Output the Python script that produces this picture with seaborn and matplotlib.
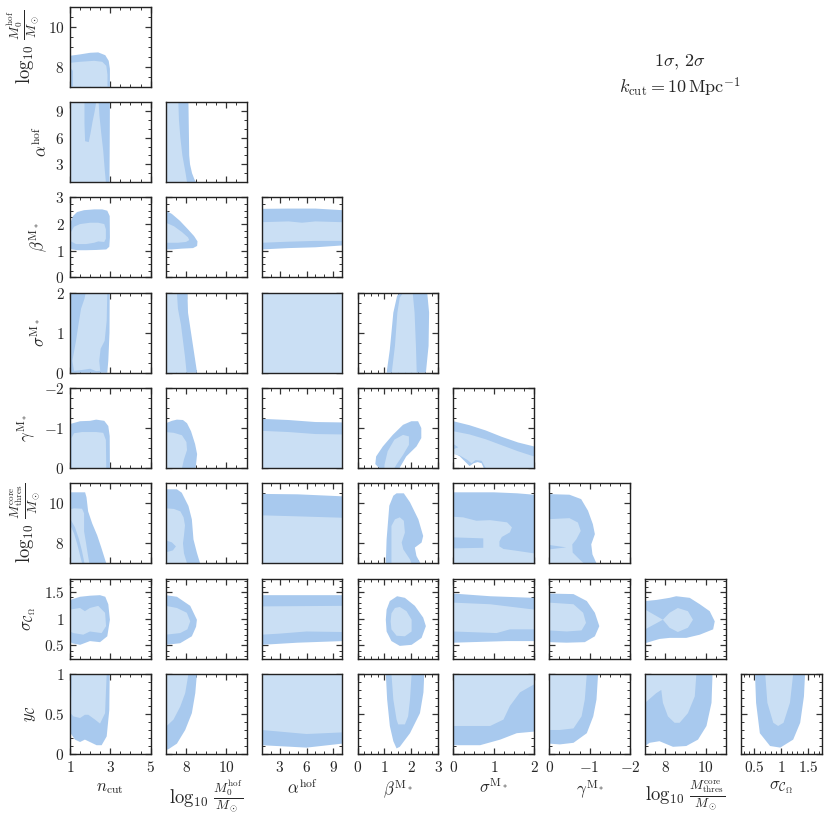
import matplotlib
matplotlib.use('Agg')
import matplotlib.pyplot as plt
import seaborn as sns
from matplotlib.ticker import FixedLocator, MultipleLocator, FixedFormatter, NullFormatter

sns.set_style('ticks')
plt.rcParams['font.family'] = ['DejaVu Serif']
plt.rcParams['mathtext.fontset'] = 'cm'

# parameters (order of the corner plot)
params = ['ncut', 'm0', 'alpha', 'beta', 'sig', 'gam', 'mth', 'sigc', 'yc']
labels = [r'$n_{\rm cut}$',
          r'$\log_{10}\,\frac{M_0^{\rm hof}}{M_\odot}$',
          r'$\alpha^{\rm hof}$',
          r'$\beta^{{\rm M}_*}$',
          r'$\sigma^{{\rm M}_*}$',
          r'$\gamma^{{\rm M}_*}$',
          r'$\log_{10}\,\frac{M_{\rm thres}^{\rm core}}{M_\odot}$',
          r'$\sigma_{\mathcal{C}_\Omega}$',
          r'$y_{\mathcal{C}}$']
label_size = [12, 13.5, 12, 12, 12, 12, 13.5, 12, 12]
limits = [(1, 5), (7, 11), (1, 10), (0, 3), (0, 2), (0, -2), (7, 11), (0.25, 1.75), (0, 1)]
major_ticks = [[1, 3, 5], [8, 10], [3, 6, 9], [0, 1, 2, 3], [0, 1, 2], [0, -1, -2],
               [8, 10], [0.5, 1, 1.5], [0, 0.5, 1]]
minor_step = [0.5, 0.5, 1, 0.25, 0.25, 0.25, 0.5, 0.1, 0.1]

# 2 sigma (outer) and 1 sigma (inner) regions
m0_ncut_2s = [(1.0, 8.55), (1.5, 8.62), (2.0, 8.7), (2.4, 8.72), (2.75, 8.58), (2.92, 8.3),
              (2.98, 7.9), (2.98, 7.0), (1.0, 7.0)]
m0_ncut_1s = [(1.0, 8.2), (1.5, 8.25), (2.2, 8.3), (2.6, 8.25), (2.8, 8.05), (2.86, 7.6),
              (2.86, 7.0), (1.15, 7.0), (1.15, 7.8), (1.0, 7.95)]

alpha_ncut_2s = [(1, 1), (1, 10), (2.98, 10), (2.97, 5), (2.96, 1)]
alpha_ncut_1s = [(1.0, 10), (1.72, 10), (1.72, 7.5), (1.75, 5.6), (1.93, 5.5), (2.02, 6.5),
                 (2.12, 7.8), (2.22, 8.9), (2.3, 10), (2.42, 10), (2.46, 8.5), (2.55, 6.5),
                 (2.65, 4.5), (2.72, 2.5), (2.78, 1.0), (1.0, 1.0)]
alpha_m0_2s = [(7, 10), (8.12, 10), (8.14, 7), (8.16, 4), (8.2, 3), (8.3, 2), (8.42, 1.3),
               (8.5, 1), (7, 1)]
alpha_m0_1s = [(7, 10), (7.62, 10), (7.65, 8), (7.72, 6), (7.82, 4), (7.9, 3), (7.98, 2),
               (8.05, 1), (7, 1)]

beta_ncut_2s = [(1.0, 2.0), (1.15, 2.3), (1.35, 2.45), (1.7, 2.52), (2.2, 2.55), (2.6, 2.55),
                (2.85, 2.5), (2.97, 2.3), (2.98, 1.5), (2.95, 1.15), (2.8, 1.05), (2.3, 1.03),
                (1.8, 1.02), (1.4, 1.02), (1.1, 1.05), (1.0, 1.1)]
beta_ncut_1s = [(1.0, 1.55), (1.05, 1.7), (1.2, 1.9), (1.5, 2.0), (2.0, 2.05), (2.4, 2.05),
                (2.7, 2.0), (2.78, 1.8), (2.78, 1.45), (2.7, 1.33), (2.4, 1.35), (2.2, 1.3),
                (1.8, 1.25), (1.3, 1.25), (1.05, 1.35)]
beta_m0_2s = [(7, 2.5), (7.3, 2.38), (7.7, 2.12), (8.1, 1.8), (8.4, 1.55), (8.57, 1.35),
              (8.55, 1.18), (8.35, 1.1), (7.8, 1.08), (7.3, 1.05), (7, 1.05)]
beta_m0_1s = [(7, 2.05), (7.4, 1.92), (7.8, 1.7), (8.1, 1.5), (8.16, 1.4), (8.0, 1.33),
              (7.6, 1.3), (7, 1.3)]
beta_alpha_2s = [(1, 2.57), (4, 2.58), (7, 2.58), (10, 2.52), (10, 1.2), (7, 1.13), (4, 1.1),
                 (1, 1.05)]
beta_alpha_1s = [(1, 2.07), (4, 2.1), (5.5, 2.05), (7, 2.1), (10, 2.07), (10, 1.37), (7, 1.37),
                 (4, 1.34), (1, 1.3)]

sig_ncut_2s = [(1, 0), (1, 2), (2.97, 2), (2.96, 1), (2.9, 0.3), (2.85, 0)]
sig_ncut_1s = [(1.78, 2.0), (2.85, 2.0), (2.82, 1.3), (2.72, 0.8), (2.52, 0.6), (2.45, 0.3),
               (2.5, 0.05), (2.3, 0.04), (2.0, 0.1), (1.6, 0.07), (1.2, 0.05), (1.12, 0.3),
               (1.3, 0.8), (1.42, 1.2), (1.55, 1.6), (1.72, 1.85)]
sig_m0_2s = [(7, 2), (8.07, 2), (8.1, 1.5), (8.25, 1.0), (8.4, 0.5), (8.55, 0), (7, 0)]
sig_m0_1s = [(7, 2), (7.55, 2), (7.6, 1.6), (7.75, 1.2), (7.85, 0.8), (7.95, 0.4), (8.03, 0),
             (7, 0)]
sig_alpha_2s = [(1, 0), (10, 0), (10, 2), (1, 2)]
sig_alpha_1s = [(1, 0), (10, 0), (10, 2), (1, 2)]
sig_beta_2s = [(1.08, 0), (1.2, 0.58), (1.33, 1.5), (1.47, 1.92), (1.57, 2.0), (2.59, 2.0),
               (2.66, 1.5), (2.64, 0.67), (2.54, 0)]
sig_beta_1s = [(1.27, 0), (1.39, 0.67), (1.48, 1.5), (1.57, 1.88), (1.7, 2.0), (2.05, 2.0),
               (2.12, 1.5), (2.17, 0.67), (2.2, 0)]

gam_ncut_2s = [(1, -1.1), (1.5, -1.17), (2.0, -1.18), (2.3, -1.21), (2.7, -1.18), (2.9, -1.05),
               (2.97, -0.8), (2.98, 0), (1, 0)]
gam_ncut_1s = [(1.08, 0), (1.08, -0.75), (1.2, -0.87), (1.6, -0.9), (2.3, -0.9), (2.65, -0.88),
               (2.78, -0.7), (2.8, 0)]
gam_m0_2s = [(7, -1.12), (7.3, -1.18), (7.55, -1.21), (7.85, -1.2), (8.05, -1.12),
             (8.25, -0.92), (8.45, -0.6), (8.55, -0.35), (8.48, 0), (7, 0)]
gam_m0_1s = [(7, -0.9), (7.4, -0.88), (7.8, -0.82), (8.02, -0.65), (8.05, -0.45), (7.9, -0.22),
             (7.8, 0), (7, 0)]
gam_alpha_2s = [(1, -1.23), (4, -1.2), (7, -1.15), (10, -1.14), (10, 0), (1, 0)]
gam_alpha_1s = [(1, -0.93), (4, -0.9), (7, -0.85), (10, -0.84), (10, 0), (1, 0)]
gam_beta_2s = [(0.66, -0.1), (0.69, -0.29), (0.94, -0.54), (1.31, -0.83), (1.69, -1.08),
               (2.0, -1.17), (2.25, -1.17), (2.37, -1.0), (2.37, -0.75), (2.19, -0.54),
               (1.81, -0.29), (1.56, 0), (0.8, 0)]
gam_beta_1s = [(1.0, -0.08), (1.12, -0.42), (1.37, -0.71), (1.69, -0.83), (1.91, -0.79),
               (1.91, -0.58), (1.69, -0.33), (1.44, -0.08), (1.37, 0), (1.0, 0)]
gam_sig_2s = [(0, -1.17), (0.4, -1.07), (0.8, -0.94), (1.2, -0.78), (1.6, -0.64), (2.0, -0.54),
              (2.0, 0), (0.75, 0), (0.7, -0.12), (0.6, -0.15), (0.5, -0.12), (0.4, -0.05),
              (0.3, -0.15), (0.15, -0.3), (0, -0.37)]
gam_sig_1s = [(0, -0.92), (0.4, -0.84), (0.8, -0.72), (1.2, -0.57), (1.6, -0.42), (2.0, -0.29),
              (2.0, 0), (0.8, 0), (0.7, -0.18), (0.55, -0.2), (0.45, -0.12), (0.35, -0.2),
              (0.15, -0.32), (0, -0.35), (0, -0.47), (0.12, -0.52), (0, -0.6)]

mth_ncut_2s = [(1, 10.55), (1.75, 10.55), (1.82, 10.3), (1.9, 9.6), (2.1, 9.0), (2.35, 8.4),
               (2.55, 7.8), (2.8, 7.0), (1, 7.0)]
mth_ncut_1s = [(1.0, 9.7), (1.2, 9.75), (1.6, 9.73), (1.7, 9.5), (1.7, 8.6), (1.8, 8.0),
               (1.86, 7.6), (1.96, 7.0), (1.72, 7.0), (1.6, 7.6), (1.45, 8.2), (1.25, 8.8),
               (1.0, 9.25)]
mth_ncut_1s_b = [(1.0, 8.95), (1.2, 8.5), (1.35, 8.0), (1.5, 7.4), (1.6, 7.0), (1.0, 7.0)]
mth_m0_2s = [(7, 10.7), (7.55, 10.7), (7.79, 10.53), (8.12, 9.87), (8.29, 9.2), (8.37, 8.2),
             (8.54, 7.53), (8.7, 7.0), (7, 7)]
mth_m0_1s = [(7, 9.75), (7.4, 9.72), (7.72, 9.6), (7.88, 9.3), (7.95, 8.9), (7.9, 8.4),
             (7.85, 8.0), (7.9, 7.5), (8.05, 7.0), (7, 7.0), (7, 7.55), (7.35, 7.65),
             (7.5, 7.85), (7.3, 8.05), (7, 8.15)]
mth_alpha_2s = [(1, 10.47), (5, 10.45), (10, 10.35), (10, 7), (1, 7)]
mth_alpha_1s = [(1, 9.4), (5, 9.35), (10, 9.28), (10, 7), (1, 7)]
mth_beta_2s = [(1.05, 7), (1.08, 8.2), (1.18, 9.88), (1.33, 10.38), (1.45, 10.5), (1.72, 10.5),
               (1.95, 10.05), (2.26, 9.2), (2.44, 8.37), (2.38, 8.04), (2.13, 7.79),
               (2.19, 7.37), (2.34, 7)]
mth_beta_1s = [(1.26, 7), (1.26, 8.2), (1.26, 8.87), (1.39, 9.2), (1.57, 9.3), (1.72, 9.13),
               (1.76, 8.54), (1.64, 8.04), (1.7, 7.7), (1.95, 7.2), (2.0, 7)]
mth_sig_2s = [(0, 10.55), (1.0, 10.55), (1.58, 10.5), (2.0, 10.43), (2, 7), (0, 7)]
mth_sig_1s = [(0, 9.33), (0.24, 9.3), (0.57, 9.13), (0.91, 9.16), (1.33, 9.05), (1.45, 8.8),
              (1.4, 8.55), (1.2, 8.32), (1.14, 8.1), (1.14, 7.85), (1.24, 7.72), (1.6, 7.62),
              (2.0, 7.5), (2.0, 7.0), (0, 7.0), (0, 7.75), (0.74, 7.78), (0.74, 8.25),
              (0, 8.3)]
mth_gam_2s = [(0, 10.46), (-0.5, 10.43), (-0.79, 10.21), (-0.96, 9.63), (-1.08, 8.96),
              (-1.13, 8.46), (-1.04, 7.95), (-1.07, 7.45), (-1.17, 7), (0, 7)]
mth_gam_1s = [(0, 9.21), (-0.5, 9.26), (-0.71, 9.04), (-0.78, 8.62), (-0.67, 8.2),
              (-0.57, 7.95), (-0.58, 7.54), (-0.79, 7.12), (-0.86, 7), (0, 7), (0, 7.7),
              (-0.42, 7.8), (0, 7.92)]

sigc_ncut_2s = [(1, 1.31), (1.08, 1.36), (1.5, 1.41), (2.0, 1.43), (2.49, 1.44), (2.75, 1.41),
                (2.9, 1.27), (2.98, 0.98), (2.85, 0.67), (2.49, 0.56), (1.99, 0.58),
                (1.5, 0.51), (1.08, 0.54), (1.0, 0.61)]
sigc_ncut_1s = [(1.0, 1.17), (1.5, 1.2), (1.74, 1.14), (1.99, 1.2), (2.4, 1.24), (2.74, 1.11),
                (2.79, 0.86), (2.57, 0.73), (1.99, 0.76), (1.66, 0.7), (1.17, 0.73),
                (1.0, 0.76)]
sigc_m0_2s = [(7, 1.44), (7.55, 1.41), (8.21, 1.24), (8.54, 0.98), (8.5, 0.85), (8.29, 0.67),
              (7.71, 0.54), (7, 0.51)]
sigc_m0_1s = [(7, 1.24), (7.55, 1.2), (8.04, 1.11), (8.21, 0.95), (8.07, 0.8), (7.71, 0.73),
              (7, 0.7)]
sigc_alpha_2s = [(1, 1.44), (10, 1.44), (10, 0.58), (5, 0.55), (1, 0.51)]
sigc_alpha_1s = [(1, 1.23), (10, 1.24), (10, 0.75), (6, 0.76), (3, 0.72), (1, 0.7)]
sigc_beta_2s = [(1.08, 1.17), (1.2, 1.33), (1.47, 1.42), (1.76, 1.39), (2.13, 1.24),
                (2.44, 1.02), (2.54, 0.86), (2.38, 0.64), (2.01, 0.51), (1.57, 0.49),
                (1.26, 0.58), (1.08, 0.76), (1.05, 0.98)]
sigc_beta_1s = [(1.26, 1.1), (1.39, 1.2), (1.57, 1.22), (1.82, 1.14), (2.01, 0.98),
                (2.01, 0.76), (1.76, 0.67), (1.45, 0.68), (1.26, 0.8), (1.23, 0.95)]
sigc_sig_2s = [(0, 1.47), (0.91, 1.42), (2, 1.39), (2, 0.58), (1.32, 0.58), (0, 0.55)]
sigc_sig_1s = [(0, 1.3), (0.91, 1.27), (2, 1.17), (2, 0.8), (1.4, 0.8), (1.07, 0.73), (0, 0.76)]
sigc_gam_2s = [(0, 1.47), (-0.6, 1.46), (-0.93, 1.33), (-1.13, 1.11), (-1.24, 0.86),
               (-1.13, 0.67), (-0.88, 0.56), (-0.43, 0.55), (0, 0.56)]
sigc_gam_1s = [(0, 1.3), (-0.6, 1.27), (-0.84, 1.11), (-0.91, 0.92), (-0.8, 0.78),
               (-0.43, 0.76), (0, 0.78)]
sigc_mth_2s = [(7, 1.33), (7.55, 1.35), (8.21, 1.39), (8.54, 1.42), (9.21, 1.39), (9.71, 1.27),
               (10.2, 1.14), (10.45, 0.95), (10.37, 0.8), (9.71, 0.7), (9.04, 0.64),
               (8.21, 0.64), (7.71, 0.62), (7, 0.54)]
sigc_mth_1s = [(7, 1.17), (7.88, 0.98), (8.21, 1.11), (8.62, 1.2), (9.12, 1.14), (9.37, 0.98),
               (9.12, 0.83), (8.62, 0.75), (8.21, 0.83), (7.88, 0.98), (7, 0.8)]

yc_ncut_2s = [(1, 1), (2.97, 1), (2.95, 0.55), (2.82, 0.22), (2.57, 0.11), (2.32, 0.11),
              (1.99, 0.15), (1.74, 0.18), (1.5, 0.15), (1.25, 0.18), (1.03, 0.26), (1, 0.3)]
yc_ncut_1s = [(1.08, 1), (2.82, 1), (2.78, 0.76), (2.74, 0.51), (2.49, 0.38), (2.24, 0.43),
              (1.91, 0.49), (1.74, 0.49), (1.5, 0.45), (1.17, 0.47), (1.03, 0.51), (1.08, 0.84)]
yc_m0_2s = [(7, 1), (8.54, 1), (8.46, 0.76), (8.29, 0.51), (7.96, 0.3), (7.55, 0.13),
            (7.13, 0.06), (7, 0.05)]
yc_m0_1s = [(7, 1), (8.12, 1), (7.96, 0.76), (7.71, 0.59), (7.38, 0.43), (7, 0.34)]
yc_alpha_2s = [(1, 1), (10, 1), (10, 0.13), (6, 0.08), (1, 0.11)]
yc_alpha_1s = [(1, 1), (10, 1), (10, 0.27), (6, 0.25), (3, 0.28), (1, 0.3)]
yc_beta_2s = [(1.05, 1), (1.1, 0.68), (1.2, 0.35), (1.33, 0.16), (1.45, 0.07), (1.57, 0.09),
              (1.95, 0.26), (2.32, 0.51), (2.45, 0.77), (2.48, 1)]
yc_beta_1s = [(1.26, 1), (1.33, 0.68), (1.45, 0.43), (1.51, 0.37), (1.76, 0.37), (1.88, 0.47),
              (1.95, 0.68), (2.01, 1)]
yc_sig_2s = [(0, 1), (2, 1), (2, 0.28), (1.57, 0.26), (1.16, 0.18), (0.66, 0.11), (0, 0.11)]
yc_sig_1s = [(0, 1), (2, 1), (2, 0.87), (1.65, 0.77), (1.4, 0.6), (1.24, 0.43), (0.91, 0.35),
             (0, 0.35)]
yc_gam_2s = [(0, 1), (-1.21, 1), (-1.17, 0.68), (-1.09, 0.47), (-0.93, 0.26), (-0.6, 0.14),
             (-0.26, 0.12), (0, 0.13)]
yc_gam_1s = [(0, 1), (-0.93, 1), (-0.88, 0.68), (-0.8, 0.47), (-0.6, 0.32), (-0.26, 0.3),
             (0, 0.3)]
yc_mth_2s = [(7, 1), (10.34, 1), (10.29, 0.64), (10.04, 0.35), (9.62, 0.18), (9.04, 0.1),
             (8.38, 0.09), (7.71, 0.16), (7.22, 0.14), (7, 0.1)]
yc_mth_1s = [(7, 1), (9.54, 1), (9.46, 0.72), (9.12, 0.51), (8.71, 0.39), (8.46, 0.39),
             (8.13, 0.47), (7.88, 0.64), (7.8, 0.8), (7.55, 0.76), (7, 0.64)]
yc_sigc_2s = [(0.51, 1), (0.53, 0.64), (0.6, 0.26), (0.79, 0.1), (0.98, 0.08), (1.22, 0.18),
              (1.35, 0.39), (1.42, 0.72), (1.44, 1)]
yc_sigc_1s = [(0.7, 1), (0.74, 0.64), (0.85, 0.39), (0.94, 0.35), (1.04, 0.39), (1.16, 0.64),
              (1.22, 1)]

# (y param, x param) -> ([2 sigma regions], [1 sigma regions])
regions = {
    ('m0', 'ncut'): ([m0_ncut_2s], [m0_ncut_1s]),
    ('alpha', 'ncut'): ([alpha_ncut_2s], [alpha_ncut_1s]),
    ('alpha', 'm0'): ([alpha_m0_2s], [alpha_m0_1s]),
    ('beta', 'ncut'): ([beta_ncut_2s], [beta_ncut_1s]),
    ('beta', 'm0'): ([beta_m0_2s], [beta_m0_1s]),
    ('beta', 'alpha'): ([beta_alpha_2s], [beta_alpha_1s]),
    ('sig', 'ncut'): ([sig_ncut_2s], [sig_ncut_1s]),
    ('sig', 'm0'): ([sig_m0_2s], [sig_m0_1s]),
    ('sig', 'alpha'): ([sig_alpha_2s], [sig_alpha_1s]),
    ('sig', 'beta'): ([sig_beta_2s], [sig_beta_1s]),
    ('gam', 'ncut'): ([gam_ncut_2s], [gam_ncut_1s]),
    ('gam', 'm0'): ([gam_m0_2s], [gam_m0_1s]),
    ('gam', 'alpha'): ([gam_alpha_2s], [gam_alpha_1s]),
    ('gam', 'beta'): ([gam_beta_2s], [gam_beta_1s]),
    ('gam', 'sig'): ([gam_sig_2s], [gam_sig_1s]),
    ('mth', 'ncut'): ([mth_ncut_2s], [mth_ncut_1s, mth_ncut_1s_b]),
    ('mth', 'm0'): ([mth_m0_2s], [mth_m0_1s]),
    ('mth', 'alpha'): ([mth_alpha_2s], [mth_alpha_1s]),
    ('mth', 'beta'): ([mth_beta_2s], [mth_beta_1s]),
    ('mth', 'sig'): ([mth_sig_2s], [mth_sig_1s]),
    ('mth', 'gam'): ([mth_gam_2s], [mth_gam_1s]),
    ('sigc', 'ncut'): ([sigc_ncut_2s], [sigc_ncut_1s]),
    ('sigc', 'm0'): ([sigc_m0_2s], [sigc_m0_1s]),
    ('sigc', 'alpha'): ([sigc_alpha_2s], [sigc_alpha_1s]),
    ('sigc', 'beta'): ([sigc_beta_2s], [sigc_beta_1s]),
    ('sigc', 'sig'): ([sigc_sig_2s], [sigc_sig_1s]),
    ('sigc', 'gam'): ([sigc_gam_2s], [sigc_gam_1s]),
    ('sigc', 'mth'): ([sigc_mth_2s], [sigc_mth_1s]),
    ('yc', 'ncut'): ([yc_ncut_2s], [yc_ncut_1s]),
    ('yc', 'm0'): ([yc_m0_2s], [yc_m0_1s]),
    ('yc', 'alpha'): ([yc_alpha_2s], [yc_alpha_1s]),
    ('yc', 'beta'): ([yc_beta_2s], [yc_beta_1s]),
    ('yc', 'sig'): ([yc_sig_2s], [yc_sig_1s]),
    ('yc', 'gam'): ([yc_gam_2s], [yc_gam_1s]),
    ('yc', 'mth'): ([yc_mth_2s], [yc_mth_1s]),
    ('yc', 'sigc'): ([yc_sigc_2s], [yc_sigc_1s]),
}

dark = '#a8c9ee'
light = '#cadff4'


def tick_text(v):
    return '$%g$' % v


fig = plt.figure(figsize=(8.29, 8.22), dpi=100)
axes = fig.subplots(8, 8)
fig.subplots_adjust(left=0.0844, right=0.9912, bottom=0.0827, top=0.9918,
                    wspace=0.188, hspace=0.19)

n = len(params) - 1
for r in range(n):
    for c in range(n):
        ax = axes[r, c]
        if c > r:
            ax.remove()
            continue
        yi, xi = r + 1, c
        outer, inner = regions[(params[yi], params[xi])]
        for poly in outer:
            xs, ys = zip(*poly)
            ax.fill(xs, ys, color=dark, lw=0, zorder=1)
        for poly in inner:
            xs, ys = zip(*poly)
            ax.fill(xs, ys, color=light, lw=0, zorder=2)

        ax.set_xlim(*limits[xi])
        ax.set_ylim(*limits[yi])
        ax.xaxis.set_major_locator(FixedLocator(major_ticks[xi]))
        ax.yaxis.set_major_locator(FixedLocator(major_ticks[yi]))
        ax.xaxis.set_minor_locator(MultipleLocator(minor_step[xi]))
        ax.yaxis.set_minor_locator(MultipleLocator(minor_step[yi]))
        ax.tick_params(which='both', direction='in', top=True, right=True,
                       color='#333333', labelsize=11, pad=4)
        ax.tick_params(which='major', length=4.5, width=0.9)
        ax.tick_params(which='minor', length=2.3, width=0.7)
        for sp in ax.spines.values():
            sp.set_linewidth(1.0)
            sp.set_color('#222222')
            sp.set_zorder(5)

        if r == n - 1:
            ax.xaxis.set_major_formatter(FixedFormatter([tick_text(v) for v in major_ticks[xi]]))
            ax.set_xlabel(labels[xi], fontsize=label_size[xi], labelpad=3)
        else:
            ax.xaxis.set_major_formatter(NullFormatter())
        if c == 0:
            ax.yaxis.set_major_formatter(FixedFormatter([tick_text(v) for v in major_ticks[yi]]))
            ax.set_ylabel(labels[yi], fontsize=label_size[yi], labelpad=4)
        else:
            ax.yaxis.set_major_formatter(NullFormatter())

fig.text(0.820, 0.924, r'$1\sigma,\,2\sigma$', ha='center', va='center', fontsize=13)
fig.text(0.820, 0.894, r'$k_{\rm cut} = 10\,{\rm Mpc}^{-1}$', ha='center', va='center',
         fontsize=13)

fig.savefig('out.png', dpi=100)
